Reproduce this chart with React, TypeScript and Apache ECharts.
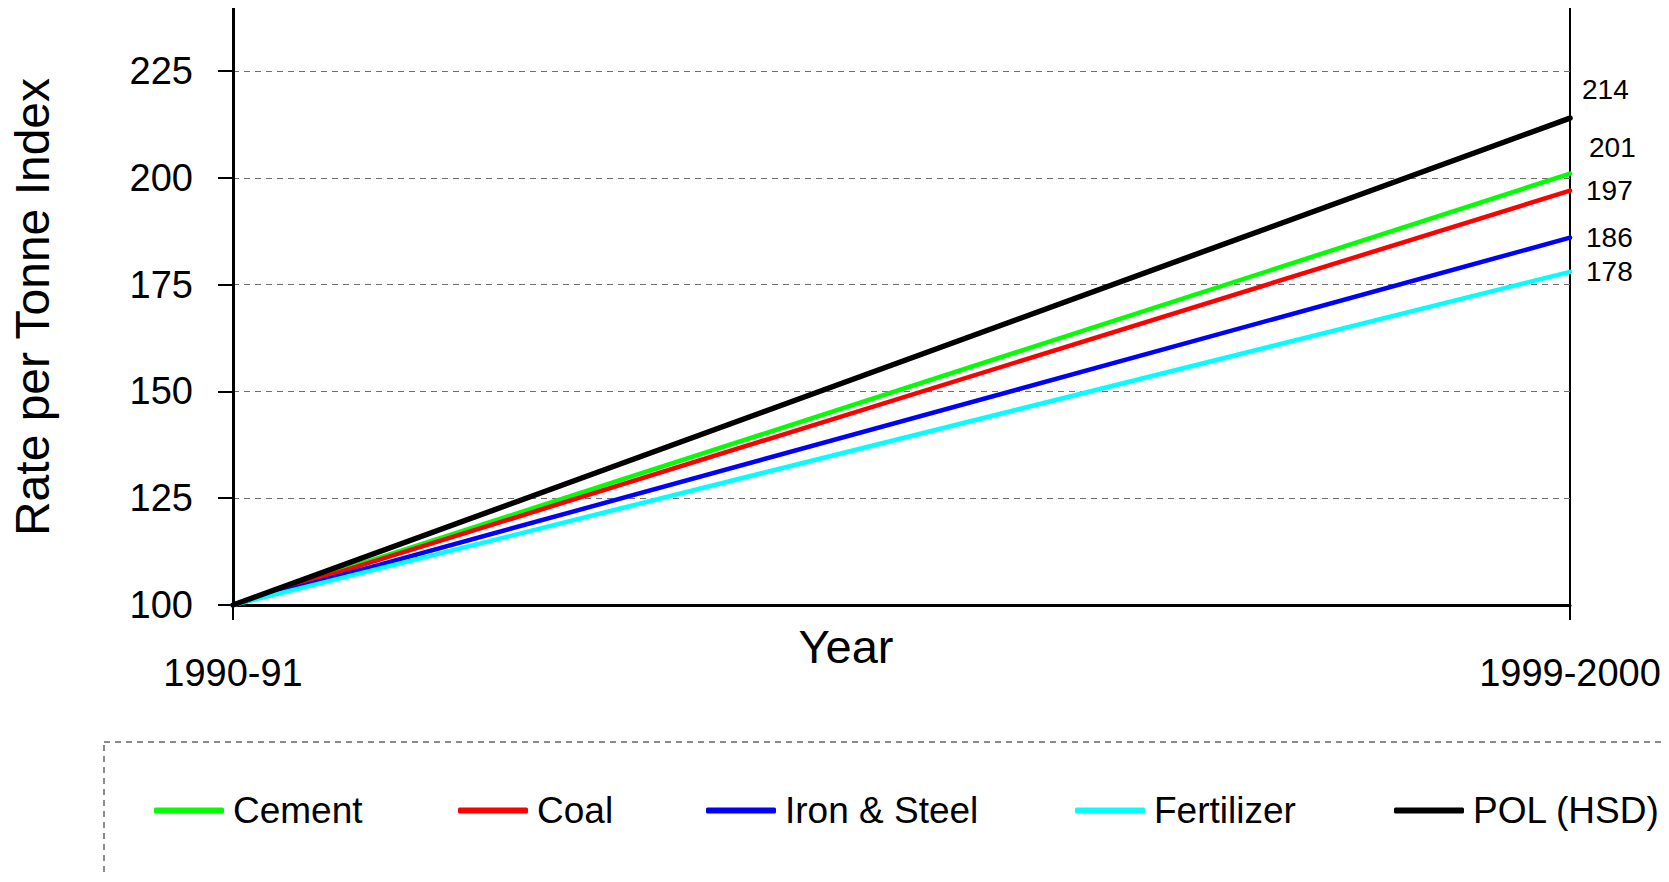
import React, { useEffect, useRef } from "react";
import * as echarts from "echarts";

// Freight rate per tonne index, 1990-91 = 100
const years = ["1990-91", "1999-2000"];
const cement = [100, 201];
const coal = [100, 197];
const ironSteel = [100, 186];
const fertilizer = [100, 178];
const polHsd = [100, 214];
const yTicks = [100, 125, 150, 175, 200, 225];

const SANS = "'Liberation Sans', Arial, sans-serif";

type SeriesDef = {
  name: string;
  values: number[];
  color: string;
  width: number;
  labelOffset: [number, number];
  labelDistance: number;
};

const seriesDefs: SeriesDef[] = [
  { name: "Cement", values: cement, color: "#00ff00", width: 4.5, labelOffset: [0, -26], labelDistance: 19 },
  { name: "Coal", values: coal, color: "#ff0000", width: 4.5, labelOffset: [0, 0], labelDistance: 16 },
  { name: "Iron & Steel", values: ironSteel, color: "#0000ff", width: 4.5, labelOffset: [0, 0], labelDistance: 16 },
  { name: "Fertilizer", values: fertilizer, color: "#00ffff", width: 4.5, labelOffset: [0, 0], labelDistance: 16 },
  { name: "POL (HSD)", values: polHsd, color: "#000000", width: 5.5, labelOffset: [0, -29], labelDistance: 12 },
];

// left edge of each legend entry in the bottom band
const legendLefts = [154, 458, 706, 1075, 1394];

export default function App() {
  const ref = useRef<HTMLDivElement>(null);

  useEffect(() => {
    if (!ref.current) return;
    const chart = echarts.init(ref.current, null, { renderer: "svg" });

    const series = seriesDefs.map((s) => ({
      type: "line",
      name: s.name,
      data: s.values,
      symbol: "none",
      showSymbol: false,
      lineStyle: { color: s.color, width: s.width, cap: "round" },
      itemStyle: { color: s.color },
      endLabel: {
        show: true,
        formatter: (p: any) => String(p.value),
        fontFamily: SANS,
        fontSize: 28,
        color: "#000",
        distance: s.labelDistance,
        offset: s.labelOffset,
      },
      z: s.name === "POL (HSD)" ? 5 : 3,
    }));

    const legends = seriesDefs.map((s, i) => ({
      data: [{ name: s.name, icon: "roundRect" }],
      left: legendLefts[i],
      top: 792,
      orient: "horizontal",
      padding: 0,
      itemWidth: 70,
      itemHeight: 6,
      itemGap: 0,
      selectedMode: false,
      textStyle: { fontFamily: SANS, fontSize: 37, color: "#000", padding: [0, 0, 0, 4] },
    }));

    chart.setOption({
      animation: false,
      backgroundColor: "#ffffff",
      grid: {
        left: 233,
        right: 99,
        top: 7,
        bottom: 277,
        show: true,
        borderColor: "#000",
        borderWidth: 2,
        backgroundColor: "transparent",
      },
      legend: legends,
      xAxis: {
        type: "category",
        data: years,
        boundaryGap: false,
        axisLine: { show: true, lineStyle: { color: "#000", width: 3 } },
        axisTick: { show: true, inside: false, length: 15, lineStyle: { color: "#000", width: 2 } },
        axisLabel: { fontFamily: SANS, fontSize: 38, color: "#000", margin: 49 },
        splitLine: { show: false },
      },
      yAxis: {
        type: "value",
        min: 100,
        max: 240,
        interval: 25,
        axisLine: { show: true, lineStyle: { color: "#000", width: 3 } },
        axisTick: {
          show: true,
          inside: false,
          length: 15,
          customValues: yTicks,
          lineStyle: { color: "#000", width: 2 },
        },
        axisLabel: {
          fontFamily: SANS,
          fontSize: 38,
          color: "#000",
          margin: 40,
          customValues: yTicks,
        },
        splitLine: { show: true, lineStyle: { color: "#707070", width: 1, type: [6, 5] } },
      },
      graphic: [
        {
          type: "text",
          x: 846,
          y: 646,
          style: {
            text: "Year",
            font: `47px ${SANS}`,
            fill: "#000",
            align: "center",
            verticalAlign: "middle",
          },
        },
        {
          type: "text",
          x: 32,
          y: 307,
          rotation: Math.PI / 2,
          style: {
            text: "Rate per Tonne Index",
            font: `48px ${SANS}`,
            fill: "#000",
            align: "center",
            verticalAlign: "middle",
          },
        },
        {
          type: "rect",
          shape: { x: 104, y: 742, width: 1700, height: 400 },
          style: { fill: "none", stroke: "#666", lineWidth: 1.5, lineDash: [6, 5] },
          silent: true,
        },
      ],
      series,
    });

    return () => chart.dispose();
  }, []);

  return <div ref={ref} style={{ width: 1669, height: 882, margin: -8 }} />;
}
